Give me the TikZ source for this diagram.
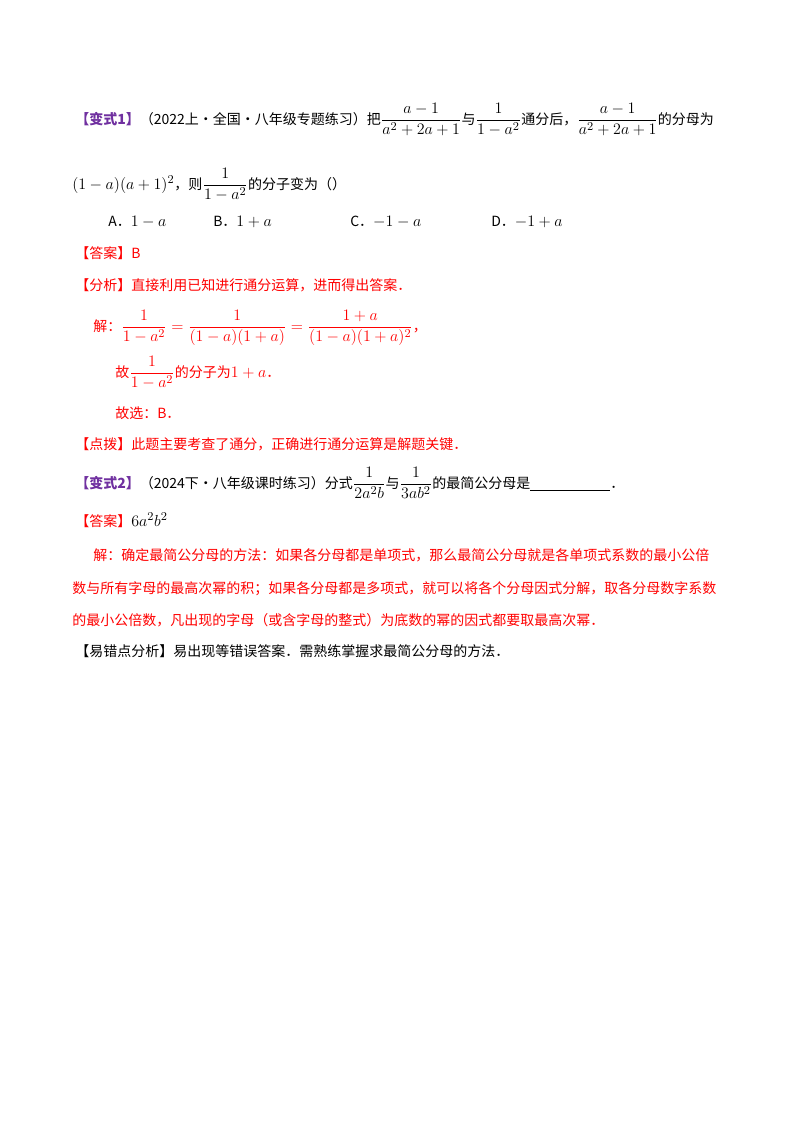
\documentclass[tikz,border=0pt]{standalone}
\usepackage{fontspec}
\usepackage{amsmath}
\setmainfont{Noto Sans CJK SC}
\definecolor{vpurple}{HTML}{7030A0}
\definecolor{vred}{HTML}{FF0000}
\tikzset{ln/.style={anchor=base west,inner sep=0pt,font=\fontsize{10.5pt}{13pt}\selectfont},
 rd/.style={ln,text=vred}}
\newcommand{\fr}[2]{{\displaystyle\frac{#1}{#2}}}
\newcommand{\mm}[1]{{\fontsize{12.5pt}{14pt}\selectfont$#1$}}
\begin{document}
\begin{tikzpicture}[x=0.75pt,y=-0.75pt]
\useasboundingbox[fill=white] (0,0) rectangle (800,1132);
\node[ln] (l1) at (75,124) {\textcolor{vpurple}{\textbf{【变式1】}}（2022上·全国·八年级专题练习）把\mm{\fr{a-1}{a^2+2a+1}}与\mm{\fr{1}{1-a^2}}通分后，\mm{\fr{a-1}{a^2+2a+1}}的分母为};
\node[ln] (l2) at (72,189) {\mm{(1-a)(a+1)^2}，则\mm{\fr{1}{1-a^2}}的分子变为（）};
\node[ln] (oa) at (108,226) {A．\mm{1-a}};
\node[ln] (ob) at (213,226) {B．\mm{1+a}};
\node[ln] (oc) at (350,226) {C．\mm{-1-a}};
\node[ln] (od) at (491,226) {D．\mm{-1+a}};
\node[rd] (ans) at (75,258) {【答案】B};
\node[rd] (ana) at (75,290) {【分析】直接利用已知进行通分运算，进而得出答案．};
\node[rd] (sol) at (93,331) {解：\mm{\fr{1}{1-a^2}=\fr{1}{(1-a)(1+a)}=\fr{1+a}{(1-a)(1+a)^2}}，};
\node[rd] (gu) at (115,377) {故\mm{\fr{1}{1-a^2}}的分子为\mm{1+a}．};
\node[rd] (gx) at (115,418) {故选：B．};
\node[rd] (dp) at (75,449) {【点拨】此题主要考查了通分，正确进行通分运算是解题关键．};
\node[ln] (v2) at (75,488) {\textcolor{vpurple}{\textbf{【变式2】}}（2024下·八年级课时练习）分式\mm{\fr{1}{2a^2b}}与\mm{\fr{1}{3ab^2}}的最简公分母是\rule[-2pt]{60pt}{0.6pt}．};
\node[ln] (a2) at (75,526) {\textcolor{vred}{【答案】}\mm{6a^2b^2}};
\node[rd] (s1) at (93,560) {解：确定最简公分母的方法：如果各分母都是单项式，那么最简公分母就是各单项式系数的最小公倍};
\node[rd] (s2) at (72,593) {数与所有字母的最高次幂的积；如果各分母都是多项式，就可以将各个分母因式分解，取各分母数字系数};
\node[rd] (s3) at (72,625) {的最小公倍数，凡出现的字母（或含字母的整式）为底数的幂的因式都要取最高次幂．};
\node[ln] (yc) at (75,656) {【易错点分析】易出现等错误答案．需熟练掌握求最简公分母的方法．};
\end{tikzpicture}
\end{document}
